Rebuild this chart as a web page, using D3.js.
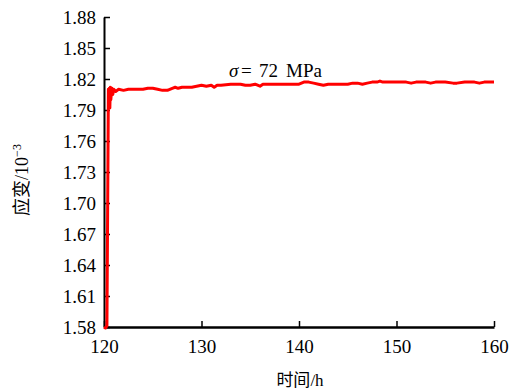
<!DOCTYPE html>
<html>
<head>
<meta charset="utf-8">
<script src="https://cdn.jsdelivr.net/npm/d3@7"></script>
<style>
  body { margin: 0; background: #fff; }
  svg text { font-family: "Liberation Serif", "Times New Roman", "DejaVu Serif", serif !important; fill: #000; }
  svg tspan.cjk { font-family: "Noto Sans CJK SC", sans-serif !important; }
</style>
</head>
<body>
<svg id="chart"></svg>
<script>
const width = 512;
const height = 390;
const margin = { top: 17, right: 18, bottom: 63, left: 104 };

// strain (10^-3) vs time (h)
const hours = [120.0, 120.15, 120.3, 120.45, 120.5, 120.55, 120.6, 120.65, 120.7, 120.8, 120.9, 121.0, 121.2, 121.5, 122, 122.5, 123, 123.5, 124, 124.5, 125, 125.5, 126, 126.5, 127, 127.3, 127.6, 128, 128.5, 129, 129.5, 130, 130.5, 131, 131.3, 131.6, 132, 133, 134, 134.5, 135, 135.5, 136, 136.3, 137, 138, 139, 140, 140.5, 141, 141.5, 142, 142.5, 143, 143.5, 144, 145, 145.5, 146, 146.5, 147, 147.5, 148, 148.3, 148.6, 149, 150, 151, 151.5, 152, 153, 153.5, 154, 155, 155.8, 156.2, 157, 158, 158.5, 159, 160];
const strain = [1.580, 1.579, 1.581, 1.810, 1.795, 1.811, 1.792, 1.812, 1.800, 1.811, 1.805, 1.810, 1.808, 1.810, 1.809, 1.810, 1.810, 1.810, 1.810, 1.811, 1.811, 1.810, 1.809, 1.809, 1.811, 1.812, 1.811, 1.812, 1.812, 1.812, 1.813, 1.814, 1.813, 1.814, 1.812, 1.814, 1.814, 1.815, 1.815, 1.814, 1.814, 1.815, 1.813, 1.815, 1.815, 1.815, 1.815, 1.815, 1.817, 1.817, 1.816, 1.815, 1.814, 1.815, 1.815, 1.815, 1.815, 1.816, 1.816, 1.815, 1.816, 1.817, 1.817, 1.818, 1.817, 1.817, 1.817, 1.817, 1.816, 1.817, 1.817, 1.816, 1.817, 1.817, 1.816, 1.816, 1.817, 1.817, 1.816, 1.817, 1.817];
const xTicks = [120, 130, 140, 150, 160];
const yTicks = [1.58, 1.61, 1.64, 1.67, 1.70, 1.73, 1.76, 1.79, 1.82, 1.85, 1.88];

const svg = d3.select("#chart")
  .attr("width", width)
  .attr("height", height);

const x = d3.scaleLinear()
  .domain([120, 160])
  .range([margin.left, width - margin.right]);
const y = d3.scaleLinear()
  .domain([1.58, 1.88])
  .range([height - margin.bottom, margin.top]);

// x axis, ticks pointing inward
const xAxis = svg.append("g")
  .attr("transform", `translate(0,${height - margin.bottom})`)
  .call(d3.axisBottom(x).tickValues(xTicks).tickSizeInner(-6).tickSizeOuter(0).tickPadding(13));
xAxis.select(".domain").attr("stroke-width", 2.5);
xAxis.selectAll(".tick line").attr("stroke-width", 1.5);
xAxis.selectAll(".tick text").attr("font-size", 19);

const yAxis = svg.append("g")
  .attr("transform", `translate(${margin.left},0)`)
  .call(d3.axisLeft(y).tickValues(yTicks).tickFormat(d3.format(".2f"))
    .tickSizeInner(-6).tickSizeOuter(0).tickPadding(8));
yAxis.select(".domain").attr("stroke-width", 2);
yAxis.selectAll(".tick line").attr("stroke-width", 1.5);
yAxis.selectAll(".tick text").attr("font-size", 19);

// the curve
const points = hours.map((h, i) => [h, strain[i]]);
svg.append("path")
  .datum(points)
  .attr("fill", "none")
  .attr("stroke", "#ff0000")
  .attr("stroke-width", 3)
  .attr("stroke-linejoin", "round")
  .attr("d", d3.line().x(d => x(d[0])).y(d => y(d[1])));

// annotation
const note = svg.append("text")
  .attr("y", 77)
  .attr("font-size", 19);
note.append("tspan").attr("x", 229).attr("font-style", "italic").text("σ");
note.append("tspan").attr("x", 241).text("=");
note.append("tspan").attr("x", 259).text("72");
note.append("tspan").attr("x", 286).text("MPa");

// axis titles
const xTitle = svg.append("text")
  .attr("x", 300)
  .attr("y", 386)
  .attr("text-anchor", "middle")
  .attr("font-size", 17);
xTitle.append("tspan").attr("class", "cjk").text("时间");
xTitle.append("tspan").text("/h");

const yTitle = svg.append("text")
  .attr("transform", "translate(28,180) rotate(-90)")
  .attr("text-anchor", "middle")
  .attr("font-size", 18);
yTitle.append("tspan").attr("class", "cjk").text("应变");
yTitle.append("tspan").text("/10");
yTitle.append("tspan").attr("font-size", 12).attr("dy", -7).text("−3");
</script>
</body>
</html>
